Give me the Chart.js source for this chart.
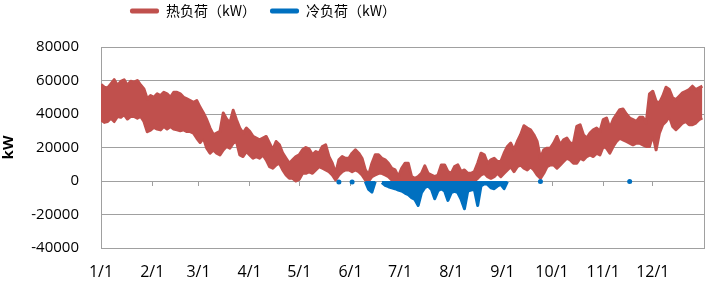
<!DOCTYPE html>
<html>
<head>
<meta charset="utf-8">
<script src="https://cdn.jsdelivr.net/npm/chart.js@4"></script>
<style>
  html, body { margin: 0; padding: 0; background: #fff; }
  #wrap { width: 708px; height: 281px; }
</style>
</head>
<body>
<div id="wrap"><canvas id="chart"></canvas></div>
<script>
// month ticks (day of year)
const monthStarts = [0, 31, 59, 90, 120, 151, 181, 212, 243, 273, 304, 334];
const monthLabels = ['1/1', '2/1', '3/1', '4/1', '5/1', '6/1', '7/1', '8/1', '9/1', '10/1', '11/1', '12/1'];

// heat load, read as upper / lower envelope every 2 days (day 0, 2, ... 364)
const heatStep = 2;
const heatHigh = [
  57600, 56000, 55500, 58000, 60500, 57000, 59500, 60400, 57000, 59600, 59000, 60000, 57300, 55000, 49000, 51000,
  50000, 52000, 51000, 53000, 52000, 50000, 53000, 53000, 52000, 50000, 49000, 48000, 47000, 48000, 44000,
  40600, 36600, 31600, 27600, 28600, 29600, 40600, 37000, 34600, 42200, 36600, 31600, 28600, 31600, 29600,
  26600, 25600, 24600, 25600, 26600, 22600, 18600, 23600, 21600, 16600, 13600, 10600, 12600, 14600, 15600,
  18600, 20000, 19000, 15600, 17600, 16600, 20600, 21600, 14600, 10600, 4600, 12600, 14600, 13600, 13600,
  16600, 18600, 16600, 13600, 6600, 3600, 10600, 15600, 15600, 13600, 12600, 10600, 7600, 6600, 2600,
  7600, 10600, 10600, 2600, 1600, 2600, 4600, 9000, 4600, 3600, 2600, 3600, 9600, 9600, 5600,
  4600, 8600, 9600, 5600, 6600, 4600, 4600, 5600, 10600, 16600, 15600, 10600, 12600, 13600, 11600,
  11600, 16600, 20600, 22600, 18600, 23600, 27600, 33000, 31600, 30600, 27600, 23600, 13600, 18600, 19600, 19600,
  22600, 26600, 21600, 24600, 25600, 22600, 22600, 32600, 33600, 27600, 25600, 28600, 30600, 31600, 29600,
  36600, 37600, 31600, 36600, 39600, 42600, 43000, 40000, 37600, 36600, 35600, 38000, 38000, 34600, 52000, 53600,
  47600, 46600, 50600, 56000, 54600, 49600, 48600, 50600, 52600, 53600, 54600, 56600, 54600, 55600, 56600
];
const heatLow = [
  36500, 35000, 35500, 37500, 35500, 38500, 38000, 39600, 37000, 38600, 38500, 37500, 38500, 35500, 29400, 30400,
  32000, 31000, 30500, 32600, 31000, 32500, 31000, 30500, 30000, 30500, 29500, 29500, 28500, 25500, 23000,
  25600, 19600, 16600, 18600, 16600, 15600, 18600, 20600, 19600, 22600, 23600, 15600, 14600, 17600, 15600,
  13600, 14600, 13600, 15600, 12600, 8600, 7600, 9600, 10600, 6600, 3600, 1600, 1600, 0, 1000,
  4600, 4600, 5600, 4600, 6600, 8600, 7600, 6600, 5600, 3600, 600, 3600, 5600, 6600, 6600,
  5600, 6600, 5600, 3600, 600, 0, 2600, 3600, 4600, 4600, 3600, 2600, 600, 600, 0,
  0, 0, 0, 0, 0, 0, 0, 0, 0, 0, 0, 0, 0, 0, 0,
  0, 0, 0, 0, 0, 0, 0, 0, 1600, 3600, 4600, 2600, 1600, 2600, 4600,
  2600, 4600, 6600, 8600, 5600, 8600, 9600, 7600, 6600, 8600, 6600, 3600, 1600, 4600, 8600, 9600,
  9600, 7600, 9600, 11600, 13600, 12600, 10600, 10600, 13600, 12600, 14600, 15600, 14600, 16600, 15600,
  20600, 19600, 16600, 20600, 23600, 25600, 24600, 23600, 22600, 21600, 22600, 22600, 21600, 20600, 20600, 27600,
  18600, 28600, 33600, 35600, 38600, 32600, 30600, 32600, 34600, 35600, 33600, 33600, 34600, 36600, 37600
];

// cooling load (negative), every 2 days from day 160
const coolStartDay = 160;
const coolLoad = [
  -400, -5000, -6600, -400, null, -1000, -2600, -3400, -4000, -4600, -5400, -6000, -7200, -8200, -10000,
  -11000, -14600, -7000, -4000, -3000, -5000, -10600, -5800, -4600, -6000, -11600, -7000, -6000, -7000,
  -11000, -16600, -6000, -5400, -5000, -14600, -3000, -1600, -2000, -4000, -4600, -3000, -2000, -4600, -400
];
// short isolated cooling hours
const coolDotDays = [144, 152, 266, 320];
const coolDotValues = [-600, -600, -300, -300];

const RED = '#C0504D';
const BLUE = '#0070C0';
const GRID = '#A0A0A0';

const heatHighPts = heatHigh.map((v, i) => ({ x: i * heatStep, y: v }));
const heatLowPts = heatLow.map((v, i) => ({ x: i * heatStep, y: v }));
const coolPts = coolLoad.map((v, i) => ({ x: coolStartDay + i * 2, y: v }));
const coolDotPts = coolDotDays.map((d, i) => ({ x: d, y: coolDotValues[i] }));

Chart.defaults.font.family = "'Open Sans', 'Noto Sans CJK SC', sans-serif";
Chart.defaults.color = '#000';

const monthTicks = (scale) => { scale.ticks = monthStarts.map(v => ({ value: v })); };

// put the legend where the reference has it
const shiftLegend = {
  id: 'shiftLegend',
  afterLayout(chart) {
    const lg = chart.legend;
    const pad = lg.options.labels.padding;
    const start = (lg.left + pad + lg.right - lg.lineWidths[0]) / 2;
    const dx = 130 - start;
    lg.left += dx; lg.right += dx;
    const dy = 11 - (lg.top + pad + 7);
    lg.top += dy; lg.bottom += dy;
  }
};

new Chart(document.getElementById('chart'), {
  type: 'line',
  data: {
    datasets: [
      {
        label: '热负荷（kW）',
        data: heatHighPts,
        borderColor: RED, backgroundColor: RED, borderWidth: 3,
        pointRadius: 0, fill: '+1', order: 1, borderJoinStyle: 'round'
      },
      {
        label: 'heatLow',
        data: heatLowPts,
        borderColor: RED, backgroundColor: RED, borderWidth: 3,
        pointRadius: 0, fill: false, order: 1, borderJoinStyle: 'round'
      },
      {
        label: '冷负荷（kW）',
        data: coolPts,
        borderColor: BLUE, backgroundColor: BLUE, borderWidth: 3,
        pointRadius: 0, fill: 'origin', order: 0, spanGaps: false, borderJoinStyle: 'round'
      },
      {
        label: 'coolDots',
        data: coolDotPts,
        borderColor: BLUE, backgroundColor: BLUE, showLine: false,
        pointRadius: 2.5, pointBorderWidth: 0, order: 0
      }
    ]
  },
  options: {
    responsive: true,
    maintainAspectRatio: false,
    animation: false,
    layout: { padding: { left: 0, right: 3, top: 0, bottom: 0 } },
    plugins: {
      tooltip: { enabled: false },
      legend: {
        position: 'top',
        labels: {
          font: { size: 14, family: "'Noto Sans CJK SC', sans-serif" },
          boxWidth: 29, boxHeight: 5, padding: 14,
          useBorderRadius: true, borderRadius: 2,
          generateLabels(chart) {
            const items = Chart.defaults.plugins.legend.labels.generateLabels(chart);
            return items
              .filter(it => it.datasetIndex === 0 || it.datasetIndex === 2)
              .sort((a, b) => a.datasetIndex - b.datasetIndex)
              .map(it => ({ ...it, lineWidth: 0 }));
          }
        }
      }
    },
    scales: {
      x: {
        type: 'linear', axis: 'x', position: 'bottom',
        min: 0, max: 365,
        afterBuildTicks: monthTicks,
        afterFit(scale) { scale.height = 33; },
        grid: { display: false, drawTicks: false },
        border: { display: false },
        ticks: {
          autoSkip: false, maxRotation: 0, padding: 15,
          font: { size: 16 },
          callback: (v) => monthLabels[monthStarts.indexOf(v)]
        }
      },
      xTicks: {
        type: 'linear', axis: 'x', position: { y: 0 },
        min: 0, max: 365,
        afterBuildTicks: monthTicks,
        grid: { drawOnChartArea: false, drawTicks: true, tickLength: 5, color: GRID },
        border: { display: false },
        ticks: { display: false }
      },
      y: {
        type: 'linear', position: 'left',
        min: -40000, max: 80000,
        afterFit(scale) { scale.width = 101; scale.paddingTop = 47; },
        grid: { color: GRID, drawTicks: false },
        border: { color: GRID },
        ticks: { stepSize: 20000, padding: 22, font: { size: 15 }, callback: (v) => String(v) },
        title: {
          display: true, text: 'kW',
          font: { size: 15, weight: 'bold' },
          padding: { top: 0, bottom: 0 }
        }
      },
      yRight: {
        type: 'linear', axis: 'y', position: 'right',
        min: -40000, max: 80000,
        afterFit(scale) { scale.width = 0; },
        grid: { display: false },
        border: { color: GRID },
        ticks: { display: false }
      }
    }
  },
  plugins: [shiftLegend]
});
</script>
</body>
</html>
